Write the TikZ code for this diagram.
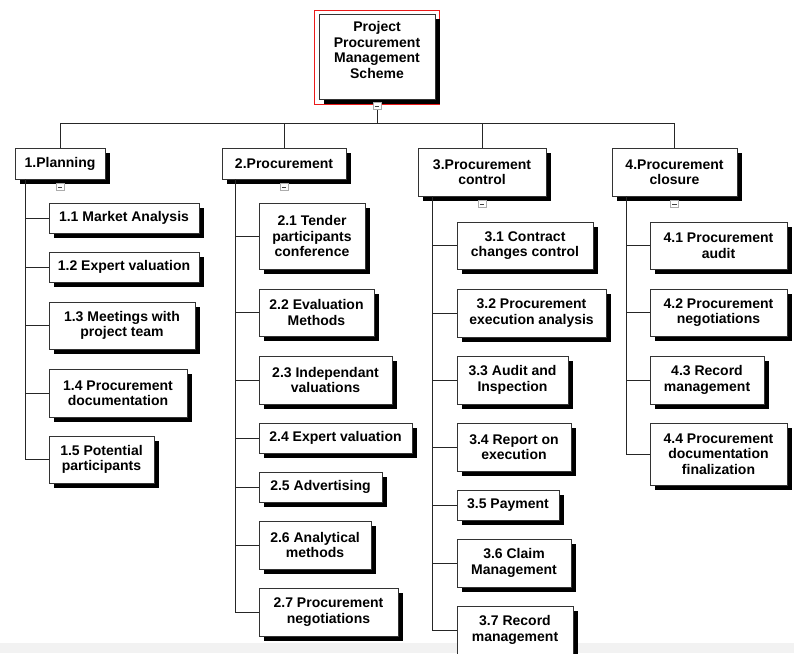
\documentclass[tikz,border=0pt]{standalone}
\usepackage{fontspec}
\setmainfont{Liberation Sans}
\usetikzlibrary{shadows}

% one work-breakdown box: name, centre x, centre y, width, height, text
\newcommand\wbsbox[6]{%
  \node[wbs, minimum width=#4pt, minimum height=#5pt] (#1) at (#2,#3) {#6};}

\definecolor{framered}{RGB}{235,25,25}

\begin{document}
\begin{tikzpicture}[x=1pt, y=-1pt,
  wbs/.style={draw=black!80, line width=0.8pt, fill=white, inner sep=0pt,
    align=center, font=\bfseries\fontsize{14}{15.5}\selectfont,
    drop shadow={shadow xshift=5pt, shadow yshift=-5pt, fill=black, opacity=1}},
  link/.style={draw=black!85, line width=0.8pt},
  toggle/.style={draw=gray!65, fill=white, line width=0.7pt, inner sep=0pt,
    minimum width=8pt, minimum height=7pt,
    path picture={\draw[black!75, line width=0.9pt]
      ([xshift=-2.2pt]path picture bounding box.center) --
      ([xshift=2.2pt]path picture bounding box.center);}},
  selframe/.style={draw=framered, line width=0.8pt, fill=none, inner sep=0pt}]

\useasboundingbox (0,0) rectangle (794,653);
\fill[white] (0,0) rectangle (794,653);
\fill[black!5] (0,643) rectangle (794,653);

% selection frame round the root, drawn first so the box sits inside it
\node[selframe, minimum width=125pt, minimum height=94pt] (frame) at (376.5,57) {};

% root
\wbsbox{root}{377}{56.5}{116}{85}{}
\node[align=center, inner sep=0pt, font=\bfseries\fontsize{14}{15.5}\selectfont]
  (roottext) at (377,50) {Project\\Procurement\\Management\\Scheme};

% first level
\wbsbox{p1}{60}{163.5}{90}{31}{1.Planning}
\wbsbox{p2}{284}{163.5}{124}{31}{2.Procurement}
\wbsbox{p3}{482}{172}{128}{48}{3.Procurement\\control}
\wbsbox{p4}{674.5}{172}{125}{48}{4.Procurement\\closure}

% planning
\wbsbox{c11}{124}{218}{150}{30}{1.1 Market Analysis}
\wbsbox{c12}{124}{267}{150}{30}{1.2 Expert valuation}
\wbsbox{c13}{122}{325.5}{146}{47}{1.3 Meetings with\\project team}
\wbsbox{c14}{118}{393}{138}{48}{1.4 Procurement\\documentation}
\wbsbox{c15}{101.5}{459.5}{105}{47}{1.5 Potential\\participants}

% procurement
\wbsbox{c21}{312}{236}{106}{66}{2.1 Tender\\participants\\conference}
\wbsbox{c22}{316.5}{312.5}{115}{47}{2.2 Evaluation\\Methods}
\wbsbox{c23}{325.5}{380}{133}{48}{2.3 Independant\\valuations}
\wbsbox{c24}{335.5}{438}{153}{30}{2.4 Expert valuation}
\wbsbox{c25}{320.5}{487}{123}{30}{2.5 Advertising}
\wbsbox{c26}{315}{545}{112}{48}{2.6 Analytical\\methods}
\wbsbox{c27}{328.5}{612}{139}{48}{2.7 Procurement\\negotiations}

% procurement control
\wbsbox{c31}{525}{245.5}{136}{47}{3.1 Contract\\changes control}
\wbsbox{c32}{531.5}{313}{149}{48}{3.2 Procurement\\execution analysis}
\wbsbox{c33}{512.5}{380}{111}{48}{3.3 Audit and\\Inspection}
\wbsbox{c34}{514}{447}{114}{48}{3.4 Report on\\execution}
\wbsbox{c35}{508}{505}{102}{30}{3.5 Payment}
\wbsbox{c36}{514}{563}{114}{48}{3.6 Claim\\Management}
\wbsbox{c37}{515}{630}{116}{48}{3.7 Record\\management}

% procurement closure
\wbsbox{c41}{718.5}{245.5}{137}{47}{4.1 Procurement\\audit}
\wbsbox{c42}{718.5}{312.5}{137}{47}{4.2 Procurement\\negotiations}
\wbsbox{c43}{707}{380}{114}{48}{4.3 Record\\management}
\wbsbox{c44}{718.5}{454}{137}{62}{4.4 Procurement\\documentation\\finalization}

% collapse markers
\node[toggle, anchor=north] (tr) at ([yshift=-3pt]root.south) {};
\node[toggle, anchor=north] (t1) at ([yshift=-4pt]p1.south) {};
\node[toggle, anchor=north] (t2) at ([yshift=-4pt]p2.south) {};
\node[toggle, anchor=north] (t3) at ([yshift=-4pt]p3.south) {};
\node[toggle, anchor=north] (t4) at ([yshift=-4pt]p4.south) {};

% root to first level
\coordinate (bus) at (377,123);
\draw[link] (tr.south) -- (bus);
\draw[link] (p1.north |- bus) -- (p4.north |- bus);
\foreach \p in {p1,p2,p3,p4}
  \draw[link] (\p.north |- bus) -- (\p.north);

% spines down to the work packages
\coordinate (s1) at (25,179);
\coordinate (s2) at (235,179);
\coordinate (s3) at (432,196);
\coordinate (s4) at (626,196);
\foreach \c in {c11,c12,c13,c14,c15} \draw[link] (s1) |- (\c.west);
\foreach \c in {c21,c22,c23,c24,c25,c26,c27} \draw[link] (s2) |- (\c.west);
\foreach \c in {c31,c32,c33,c34,c35,c36,c37} \draw[link] (s3) |- (\c.west);
\foreach \c in {c41,c42,c43,c44} \draw[link] (s4) |- (\c.west);
\end{tikzpicture}
\end{document}
